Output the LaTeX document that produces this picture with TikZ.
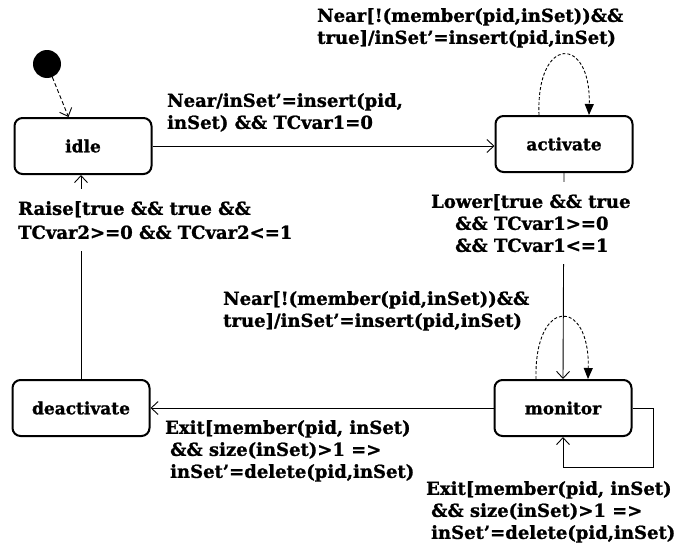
\documentclass[tikz,border=0pt]{standalone}
\usepackage{fontspec}
\setmainfont{DejaVu Serif}[BoldFeatures={FakeBold=1.2}]
\usetikzlibrary{arrows.meta}
\begin{document}
\begin{tikzpicture}[x=1pt,y=-1pt,
  state/.style={draw, line width=2pt, rounded corners=8pt, minimum width=137pt, minimum height=56pt, font=\bfseries\fontsize{17}{20}\selectfont, inner sep=0pt},
  lbl/.style={font=\bfseries\fontsize{18}{22}\selectfont, align=left, inner sep=0pt, anchor=north west},
  cover/.style={fill=white, inner xsep=2pt, inner ysep=12pt},
  conn/.style={line width=0.9pt, -{Straight Barb[length=7pt,width=13pt,line width=0.9pt]}},
  selfloop/.style={line width=0.9pt, dash pattern=on 3pt off 2pt, -{Triangle[length=11pt,width=9pt]}},
]
\useasboundingbox (0,0) rectangle (678,549);
\node[circle, fill, minimum size=28pt, inner sep=0pt] (init) at (47,64) {};
\node[state] (idle) at (83,146) {idle};
\node[state] (act) at (564,144) {activate};
\node[state] (deact) at (81,408) {deactivate};
\node[state] (mon) at (563,408) {monitor};

% labels
\node[lbl] (l1) at (167,93) {Near/inSet'=insert(pid,\\inSet) \&\& TCvar1=0};
\node[lbl] (l2) at (317,8) {Near[!(member(pid,inSet))\&\&\\true]/inSet'=insert(pid,inSet)};
\node[lbl] (l5) at (223,291) {Near[!(member(pid,inSet))\&\&\\true]/inSet'=insert(pid,inSet)};
\node[lbl] (l6) at (165,420) {Exit[member(pid, inSet)\\\hspace{5pt}\&\& size(inSet)>1 =>\\\hspace{5pt}inSet'=delete(pid,inSet)};
\node[lbl] (l7) at (426,481) {Exit[member(pid, inSet)\\\hspace{5pt}\&\& size(inSet)>1 =>\\\hspace{5pt}inSet'=delete(pid,inSet)};

% connectors
\draw[conn, dash pattern=on 4pt off 2.5pt] (init) -- ([xshift=55pt]idle.north west);
\draw[conn] (idle.east) -- (idle.east -| act.west);
\draw[selfloop] ([xshift=-25pt]act.north) .. controls +(-3,-80) and +(2,-80) .. ([xshift=25pt]act.north);
\draw[conn] (act.south) -- (mon.north);
\node[lbl, cover] (l3) at (429,182) {Lower[true \&\& true\\\hspace{24pt}\&\& TCvar1>=0\\\hspace{24pt}\&\& TCvar1<=1};
\draw[selfloop] ([xshift=-27pt]mon.north) .. controls +(-2,-82) and +(2,-82) .. ([xshift=25pt]mon.north);
\draw[conn] (mon.west) -- (mon.west -| deact.east);
\draw[conn] (mon.east) -- ++(21,0) -- ++(0,59) -| (mon.south);
\draw[conn] (deact.north) -- (deact.north |- idle.south);
\node[lbl, cover, font=\bfseries\fontsize{18}{24}\selectfont] (l4) at (16,189) {Raise[true \&\& true \&\&\\TCvar2>=0 \&\& TCvar2<=1};
\end{tikzpicture}
\end{document}
